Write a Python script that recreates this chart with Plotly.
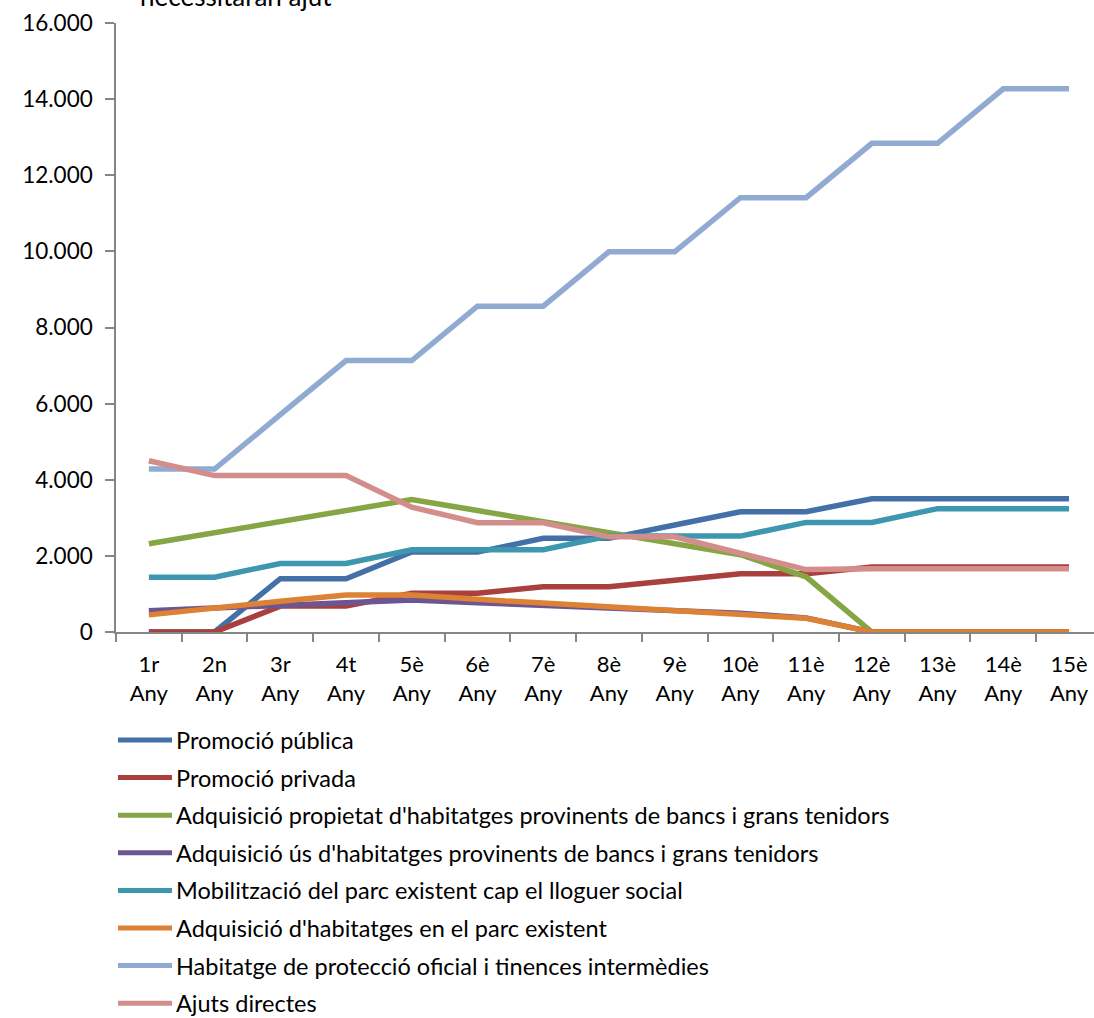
import plotly.graph_objects as go

# Year labels along the x axis
ordinals = ["1r", "2n", "3r", "4t", "5è", "6è", "7è", "8è", "9è", "10è",
            "11è", "12è", "13è", "14è", "15è"]
year_labels = [f"{o}<br>Any" for o in ordinals]

# Series values (households per year)
promocio_publica = [0, 0, 1400, 1400, 2100, 2100, 2460, 2460, 2810, 3160,
                    3160, 3500, 3500, 3500, 3500]
promocio_privada = [0, 0, 680, 680, 1020, 1020, 1190, 1190, 1360, 1530,
                    1530, 1710, 1710, 1710, 1710]
adq_propietat = [2320, 2610, 2900, 3190, 3480, 3190, 2900, 2610, 2320, 2030,
                 1450, 0, 0, 0, 0]
adq_us = [560, 630, 700, 770, 840, 770, 700, 630, 560, 490, 370, 0, 0, 0, 0]
mobilitzacio = [1440, 1440, 1800, 1800, 2160, 2160, 2160, 2520, 2520, 2520,
                2880, 2880, 3240, 3240, 3240]
adq_parc = [450, 640, 810, 970, 970, 860, 760, 670, 580, 450, 360, 0, 0, 0, 0]
hpo = [4280, 4280, 5710, 7130, 7130, 8560, 8560, 9990, 9990, 11410, 11410,
       12840, 12840, 14270, 14270]
ajuts = [4500, 4110, 4110, 4110, 3280, 2870, 2870, 2500, 2500, 2080, 1640,
         1660, 1660, 1660, 1660]

series_names = [
    "Promoció pública",
    "Promoció privada",
    "Adquisició propietat d'habitatges provinents de bancs i grans tenidors",
    "Adquisició ús d'habitatges provinents de bancs i grans tenidors",
    "Mobilització del parc existent cap el lloguer social",
    "Adquisició d'habitatges en el parc existent",
    "Habitatge de protecció oficial i tinences intermèdies",
    "Ajuts directes",
]
series_values = [promocio_publica, promocio_privada, adq_propietat, adq_us,
                 mobilitzacio, adq_parc, hpo, ajuts]
series_colors = ["#4470A8", "#A9403E", "#86A545", "#6C5591", "#3D97AF",
                 "#DD8135", "#91AAD2", "#D38E8C"]

FONT = "Lato"
FS = 22
W, H = 1094, 1018
ML, MR, MT, MB = 116, 0, 23, 386
plot_w = W - ML - MR
plot_h = H - MT - MB

fig = go.Figure()
for name, vals, col in zip(series_names, series_values, series_colors):
    fig.add_trace(go.Scatter(
        x=year_labels, y=vals, name=name, mode="lines",
        line=dict(color=col, width=5.5), showlegend=False,
    ))

# Legend drawn below the chart: a coloured stroke followed by the name
for i, (name, col) in enumerate(zip(series_names, series_colors)):
    py = 740 + 37.6 * i
    yp = (MT + plot_h - py) / plot_h
    fig.add_shape(type="line", xref="paper", yref="paper",
                  x0=(118 - ML) / plot_w, x1=(172 - ML) / plot_w, y0=yp, y1=yp,
                  line=dict(color=col, width=5))
    fig.add_annotation(xref="paper", yref="paper", x=(174 - ML) / plot_w, y=yp,
                       xanchor="left", yanchor="middle", showarrow=False,
                       text=name, font=dict(family=FONT, size=23.5, color="#000"))

# Chart title (last line visible above the plot)
fig.add_annotation(xref="paper", yref="paper", x=(236 - ML) / plot_w, y=1,
                   xanchor="center", yanchor="bottom", yshift=9,
                   showarrow=False, text="necessitaran ajut",
                   font=dict(family=FONT, size=26, color="#000"))

fig.update_layout(
    width=W, height=H,
    margin=dict(l=ML, r=MR, t=MT, b=MB, pad=0),
    plot_bgcolor="white", paper_bgcolor="white",
    separators=",.",
    font=dict(family=FONT, size=FS, color="#000"),
    showlegend=False,
)
fig.update_xaxes(
    type="category", range=[-0.5, 14.38],
    showgrid=False, showline=True, linecolor="#868686", linewidth=1.5,
    ticks="outside", tickson="boundaries", ticklen=8, tickcolor="#868686",
    tickwidth=1.5, ticklabelstandoff=12, tickfont=dict(family=FONT, size=FS),
)
fig.update_yaxes(
    range=[0, 16000], dtick=2000, tickformat=",d",
    showgrid=False, showline=True, linecolor="#868686", linewidth=1.5,
    ticks="outside", ticklen=9, tickcolor="#868686", tickwidth=1.5,
    ticklabelstandoff=8, zeroline=False,
    tickfont=dict(family=FONT, size=FS + 0.5),
)

fig.write_html("out.html")
